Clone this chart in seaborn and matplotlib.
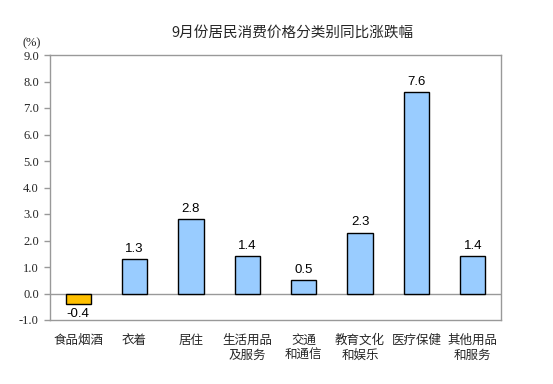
import matplotlib
matplotlib.use("Agg")
import matplotlib.pyplot as plt
import seaborn as sns
import pandas as pd

categories = ["食品烟酒", "衣着", "居住", "生活用品\n及服务", "交通\n和通信", "教育文化\n和娱乐", "医疗保健", "其他用品\n和服务"]
values = [-0.4, 1.3, 2.8, 1.4, 0.5, 2.3, 7.6, 1.4]
yticks = [-1.0, 0.0, 1.0, 2.0, 3.0, 4.0, 5.0, 6.0, 7.0, 8.0, 9.0]
title = "9月份居民消费价格分类别同比涨跌幅"

sns.set_theme(style="white")
plt.rcParams['font.family'] = ['Noto Sans CJK SC', 'DejaVu Sans']
plt.rcParams['font.serif'] = ['Liberation Serif', 'DejaVu Serif']

df = pd.DataFrame({"cat": categories, "val": values})
colors = {c: ("#FFC000" if v < 0 else "#99CCFF") for c, v in zip(categories, values)}

fig = plt.figure(figsize=(5.53, 3.84), dpi=100)
ax = fig.add_axes([50/553, 64/384, 451/553, 265/384])
sns.barplot(data=df, x="cat", y="val", hue="cat", palette=colors, legend=False,
            width=0.45, edgecolor="black", linewidth=1.0, ax=ax, saturation=1)

ax.set_ylim(-1.0, 9.0)
ax.set_xlim(-0.5, len(categories) - 0.5)
ax.set_yticks(yticks)
ax.set_yticklabels([f"{t:.1f}" for t in yticks], family='serif', fontsize=9)
ax.tick_params(axis="y", which="major", direction="out", length=4, width=1, color="#999999", pad=4, left=True)
ax.tick_params(axis="x", length=0, pad=10, labelsize=9)
ax.set_xlabel("")
ax.set_ylabel("")
for s in ax.spines.values():
    s.set_color("#999999")
    s.set_linewidth(1)
ax.axhline(0, color="#999999", linewidth=1, zorder=0.5)

for cont in ax.containers:
    ax.bar_label(cont, fmt="%.1f", padding=3, fontsize=9.5, family=['Liberation Sans'], color="black")

fig.text(292/553, 1 - 33/384, title, ha="center", va="center", fontsize=10.5)
fig.text(32/553, 1 - 43/384, "(%)", ha="center", va="center", fontsize=9, family='serif')

fig.savefig("out.png", dpi=100)
